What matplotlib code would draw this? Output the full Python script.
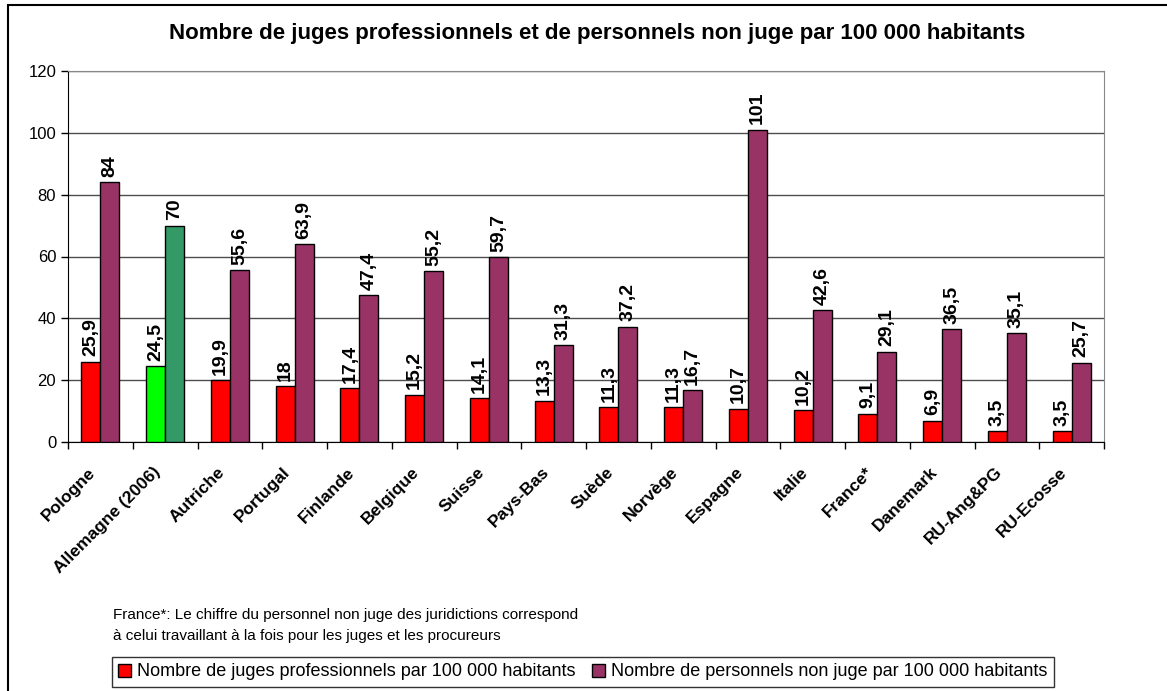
import numpy as np
import matplotlib.pyplot as plt
import matplotlib.transforms as mtransforms
from matplotlib.patches import Rectangle, Patch
from matplotlib.ticker import FixedLocator, NullFormatter

plt.rcParams['font.family'] = ['Liberation Sans', 'DejaVu Sans']

pays = ["Pologne", "Allemagne (2006)", "Autriche", "Portugal", "Finlande",
        "Belgique", "Suisse", "Pays-Bas", "Suède", "Norvège", "Espagne",
        "Italie", "France*", "Danemark", "RU-Ang&PG", "RU-Ecosse"]
juges = [25.9, 24.5, 19.9, 18, 17.4, 15.2, 14.1, 13.3, 11.3, 11.3, 10.7,
         10.2, 9.1, 6.9, 3.5, 3.5]
non_juges = [84, 70, 55.6, 63.9, 47.4, 55.2, 59.7, 31.3, 37.2, 16.7, 101,
             42.6, 29.1, 36.5, 35.1, 25.7]
labels_juges = ["25,9", "24,5", "19,9", "18", "17,4", "15,2", "14,1", "13,3",
                "11,3", "11,3", "10,7", "10,2", "9,1", "6,9", "3,5", "3,5"]
labels_non_juges = ["84", "70", "55,6", "63,9", "47,4", "55,2", "59,7", "31,3",
                    "37,2", "16,7", "101", "42,6", "29,1", "36,5", "35,1", "25,7"]

rouge = "#FF0000"
violet = "#993366"
vert_clair = "#00FF00"
vert_fonce = "#339966"

fig = plt.figure(figsize=(11.67, 6.91), dpi=100)
ax = fig.add_axes([68 / 1167, 1 - 442 / 691, (1104 - 68) / 1167, (442 - 71) / 691])

x = np.arange(len(pays))
w = 0.295
c1 = [vert_clair if p.startswith("Allemagne") else rouge for p in pays]
c2 = [vert_fonce if p.startswith("Allemagne") else violet for p in pays]
ax.bar(x - w / 2, juges, w, color=c1, edgecolor="black", linewidth=1, zorder=3)
ax.bar(x + w / 2, non_juges, w, color=c2, edgecolor="black", linewidth=1, zorder=3)

for i in range(len(pays)):
    ax.annotate(labels_juges[i], (x[i] - w / 2, juges[i]), xytext=(0, 4),
                textcoords="offset points", rotation=90, ha="center", va="bottom",
                fontsize=14, fontweight="bold")
    ax.annotate(labels_non_juges[i], (x[i] + w / 2, non_juges[i]), xytext=(0, 4),
                textcoords="offset points", rotation=90, ha="center", va="bottom",
                fontsize=14, fontweight="bold")

ax.set_xlim(-0.5, len(pays) - 0.5)
ax.set_ylim(0, 120)
ax.set_yticks(range(0, 121, 20))
ax.tick_params(axis="y", labelsize=12, length=5, direction="out", width=1)
ax.yaxis.grid(True, color="#4d4d4d", linewidth=1, zorder=0)

ax.xaxis.set_major_locator(FixedLocator(np.arange(-0.5, len(pays), 1.0)))
ax.xaxis.set_major_formatter(NullFormatter())
ax.set_xticks(x, minor=True)
ax.set_xticklabels(pays, minor=True, rotation=45, ha="right", va="center",
                   rotation_mode="anchor", fontsize=12.5, fontweight="bold")
ax.tick_params(axis="x", which="major", length=5, width=1)
ax.tick_params(axis="x", which="minor", length=0, pad=20)
decalage = mtransforms.ScaledTranslation(-7 / 100, 0, fig.dpi_scale_trans)
for lab in ax.get_xticklabels(minor=True):
    lab.set_transform(lab.get_transform() + decalage)

for s in ["top", "right"]:
    ax.spines[s].set_color("#888888")
for s in ["left", "bottom"]:
    ax.spines[s].set_color("black")

fig.text(597 / 1167, 1 - 34 / 691,
         "Nombre de juges professionnels et de personnels non juge par 100 000 habitants",
         ha="center", va="center", fontsize=16, fontweight="bold")

fig.text(113 / 1167, 1 - 615 / 691,
         "France*: Le chiffre du personnel non juge des juridictions correspond",
         ha="left", va="center", fontsize=11)
fig.text(113 / 1167, 1 - 636 / 691,
         "à celui travaillant à la fois pour les juges et les procureurs",
         ha="left", va="center", fontsize=11)

handles = [Patch(facecolor=rouge, edgecolor="black"),
           Patch(facecolor=violet, edgecolor="black")]
leg = fig.legend(handles,
                 ["Nombre de juges professionnels par 100 000 habitants",
                  "Nombre de personnels non juge par 100 000 habitants"],
                 loc="center left", bbox_to_anchor=(112 / 1167, 1 - 672 / 691),
                 ncol=2, fontsize=13, frameon=True, fancybox=False,
                 handlelength=0.7, handleheight=0.7, handletextpad=0.35,
                 columnspacing=0.9, borderpad=0.35, borderaxespad=0)
leg.get_frame().set_edgecolor("black")
leg.get_frame().set_linewidth(1)

fig.patches.append(Rectangle((8 / 1167, -0.05), 1.1, 1.05 - 5 / 691,
                             transform=fig.transFigure, fill=False,
                             edgecolor="black", linewidth=1.5))

fig.savefig("out.png", dpi=100)
